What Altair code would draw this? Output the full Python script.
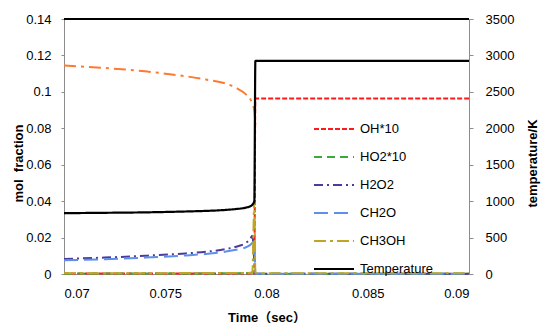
import altair as alt
import pandas as pd

FONT = "Liberation Sans, 'Noto Sans CJK SC', sans-serif"

# ---- data ----
series_names = ["OH*10", "HO2*10", "H2O2", "CH2O", "CH3OH", "Temperature"]
series_colors = ["#FF1A1A", "#3BAA3B", "#4A3B9C", "#5E8FEA", "#BFA524", "#000000"]
series_dash = [[5, 2], [8, 5], [9, 4, 2, 4], [14, 6], [12, 4, 3, 4], [1, 0]]

t_oh = [0.070, 0.0794, 0.07945, 0.0795, 0.090]
oh10 = [0.0003, 0.0003, 0.0963, 0.0963, 0.0963]

t_ho2 = [0.070, 0.0790, 0.0794, 0.07945, 0.0795, 0.090]
ho2_10 = [0.0002, 0.0004, 0.0010, 0.0004, 0.0002, 0.0002]

t_h2o2 = [0.070, 0.072, 0.074, 0.076, 0.077, 0.078, 0.0785, 0.079, 0.0792, 0.0793, 0.07945, 0.0795, 0.090]
h2o2 = [0.0083, 0.0090, 0.0100, 0.0113, 0.0122, 0.0137, 0.0150, 0.0172, 0.0193, 0.0210, 0.0003, 0.0002, 0.0002]

t_ch2o = [0.070, 0.072, 0.074, 0.076, 0.077, 0.078, 0.0785, 0.079, 0.0792, 0.0794, 0.07945, 0.0795, 0.090]
ch2o = [0.0075, 0.0081, 0.0090, 0.0102, 0.0110, 0.0123, 0.0133, 0.0147, 0.0160, 0.0178, 0.0003, 0.0002, 0.0002]

t_ch3oh = [0.070, 0.0793, 0.0794, 0.07945, 0.0795, 0.090]
ch3oh = [0.0004, 0.0006, 0.0400, 0.0010, 0.0004, 0.0004]

t_fuel = [0.070, 0.072, 0.074, 0.075, 0.076, 0.077, 0.078, 0.0785, 0.079, 0.0792, 0.0793, 0.0794, 0.07945]
fuel = [0.1145, 0.1131, 0.1113, 0.1100, 0.1086, 0.1068, 0.1045, 0.1022, 0.0985, 0.0960, 0.0935, 0.0895, 0.0820]

t_temp = [0.070, 0.072, 0.074, 0.076, 0.077, 0.078, 0.0785, 0.079, 0.0792, 0.0793, 0.0794, 0.07945, 0.0795, 0.090]
temp = [835, 840, 846, 858, 866, 880, 892, 912, 930, 950, 1000, 2925, 2925, 2925]

x_ticks = [0.07, 0.075, 0.08, 0.085, 0.09]
y_left_ticks = [0, 0.02, 0.04, 0.06, 0.08, 0.1, 0.12, 0.14]
y_right_ticks = [0, 500, 1000, 1500, 2000, 2500, 3000, 3500]
top_line = [0.14]

# ---- tables ----
rows = []
for name, ts, vs in [("OH*10", t_oh, oh10), ("HO2*10", t_ho2, ho2_10),
                     ("H2O2", t_h2o2, h2o2), ("CH2O", t_ch2o, ch2o),
                     ("CH3OH", t_ch3oh, ch3oh)]:
    for t, v in zip(ts, vs):
        rows.append({"time": t, "value": v, "series": name})
species = pd.DataFrame(rows)
fuel_df = pd.DataFrame({"time": t_fuel, "value": fuel})
temp_df = pd.DataFrame({"time": t_temp, "value": temp, "series": "Temperature"})
top_df = pd.DataFrame({"value": top_line})

xscale = alt.Scale(domain=[0.07, 0.09], nice=False, zero=False)
x_axis = alt.Axis(title="Time\uff08sec\uff09", values=x_ticks, format="~g",
                  grid=False, domainColor="#8c8c8c", ticks=False,
                  labelPadding=13, labelFontSize=13, labelColor="#000",
                  labelOverlap=False,
                  titleFontSize=13, titleFontWeight="bold",
                  titleBaseline="middle", titleY=43, labelFont=FONT, titleFont=FONT)


def xenc():
    return alt.X("time:Q", scale=xscale, axis=x_axis)


color_scale = alt.Scale(domain=series_names, range=series_colors)
dash_scale = alt.Scale(domain=series_names, range=series_dash)
legend = alt.Legend(title=None, orient="none", legendX=249, legendY=89,
                    symbolType="stroke", symbolSize=1600, symbolStrokeWidth=2,
                    labelFontSize=13, labelFont=FONT, labelColor="#000",
                    labelOffset=5, rowPadding=-15, padding=0)

yleft = alt.Scale(domain=[0, 0.14], nice=False)
yleft_axis = alt.Axis(title="mol\u00a0 fraction", values=y_left_ticks, format="~g", grid=False,
                      domainColor="#8c8c8c", tickColor="#8c8c8c", tickSize=3,
                      labelOverlap=False,
                      labelPadding=10, labelFontSize=13, labelColor="#000",
                      titleFontSize=13, titleFontWeight="bold", titleX=-46, titleY=144,
                      titleAngle=-90, titleBaseline="middle", labelFont=FONT, titleFont=FONT)


def yenc():
    return alt.Y("value:Q", scale=yleft, axis=yleft_axis)


lines = alt.Chart(species).mark_line(strokeWidth=2, interpolate="monotone").encode(
    x=xenc(),
    y=yenc(),
    color=alt.Color("series:N", scale=color_scale, legend=legend, sort=series_names),
    strokeDash=alt.StrokeDash("series:N", scale=dash_scale, legend=legend, sort=series_names),
    order=alt.Order("time:Q"),
)

fuel_line = alt.Chart(fuel_df).mark_line(strokeWidth=2, interpolate="monotone",
                                         color="#FF7A30", strokeDash=[12, 5, 3, 5]).encode(
    x=xenc(),
    y=yenc(),
)

top_rule = alt.Chart(top_df).mark_rule(color="#000", strokeWidth=2).encode(
    y=yenc(),
)

left = alt.layer(lines, fuel_line, top_rule)

temp_line = alt.Chart(temp_df).mark_line(strokeWidth=2.2, interpolate="monotone").encode(
    x=xenc(),
    y=alt.Y("value:Q", scale=alt.Scale(domain=[0, 3500], nice=False),
            axis=alt.Axis(orient="right", title="temperature/K", values=y_right_ticks,
                          format="d", grid=False, domainColor="#8c8c8c",
                          tickColor="#8c8c8c", tickSize=4, labelPadding=12,
                          labelOverlap=False,
                          labelFontSize=13, labelColor="#000", titleFontSize=13,
                          titleFontWeight="bold", titleX=63, titleY=144, titleAngle=-90,
                          titleBaseline="middle", labelFont=FONT, titleFont=FONT)),
    color=alt.Color("series:N", scale=color_scale, legend=legend, sort=series_names),
    strokeDash=alt.StrokeDash("series:N", scale=dash_scale, legend=legend, sort=series_names),
)

chart = alt.layer(left, temp_line).resolve_scale(y="independent").properties(
    width=405, height=255,
    autosize=alt.AutoSizeParams(type="none"),
    padding={"left": 56, "top": 11, "right": 73, "bottom": 49},
).configure_view(stroke=None).configure(background="white")

chart.save("out.html", embed_options={"renderer": "svg", "actions": False})
